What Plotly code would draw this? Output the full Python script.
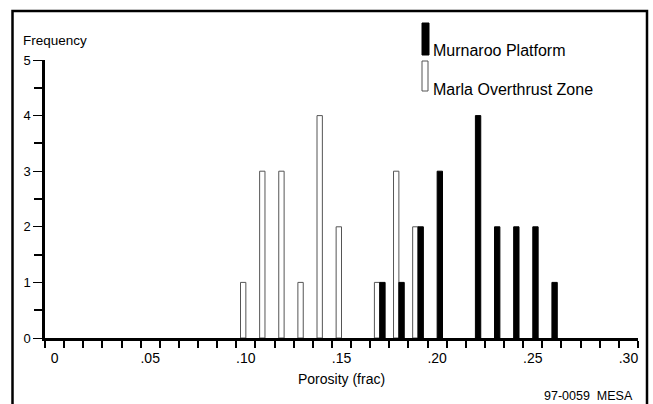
import plotly.graph_objects as go

# Data
murnaroo_x = [0.17, 0.18, 0.19, 0.20, 0.22, 0.23, 0.24, 0.25, 0.26]
murnaroo_y = [1, 1, 2, 3, 4, 2, 2, 2, 1]
marla_x = [0.10, 0.11, 0.12, 0.13, 0.14, 0.15, 0.17, 0.18, 0.19]
marla_y = [1, 3, 3, 1, 4, 2, 1, 3, 2]
xtick_vals = [0, 0.05, 0.10, 0.15, 0.20, 0.25, 0.30]
xtick_text = ["0", ".05", ".10", ".15", ".20", ".25", ".30"]
ytick_vals = [0, 1, 2, 3, 4, 5]

W, H = 653, 404
L, R, T, B = 45, 15, 60, 66
PW, PH = W - L - R, H - T - B


def px(x):
    return (x - L) / PW


def py(y):
    return (H - B - y) / PH


FONT = "Liberation Sans, Arial, sans-serif"
BW = 0.0028

fig = go.Figure()
fig.add_trace(go.Bar(x=marla_x, y=marla_y, width=BW, offset=-BW,
                     marker=dict(color="white", line=dict(color="#555", width=1)),
                     showlegend=False))
fig.add_trace(go.Bar(x=murnaroo_x, y=murnaroo_y, width=BW, offset=0,
                     marker=dict(color="black", line=dict(color="black", width=1)),
                     showlegend=False))

boundaries = [round(-0.005 + 0.01 * k, 4) for k in range(32)]

fig.update_layout(
    width=W, height=H,
    margin=dict(l=L, r=R, t=T, b=B),
    paper_bgcolor="white", plot_bgcolor="white",
    barmode="overlay",
    font=dict(family=FONT, color="black"),
    xaxis=dict(range=[-0.005, 0.305], showgrid=False, zeroline=False,
               showline=True, linecolor="black", linewidth=2.5,
               tickvals=xtick_vals, ticktext=xtick_text, ticks="",
               tickfont=dict(size=14, family=FONT),
               ticklabelstandoff=5,
               minor=dict(tickvals=boundaries, ticks="outside", ticklen=7,
                          tickwidth=2, tickcolor="black")),
    yaxis=dict(range=[0, 5], showgrid=False, zeroline=False,
               showline=True, linecolor="black", linewidth=2.5,
               tickvals=ytick_vals, ticks="outside", ticklen=9, tickwidth=1,
               tickcolor="black", tickfont=dict(size=13, family=FONT),
               minor=dict(tickvals=[0.5, 1.5, 2.5, 3.5, 4.5], ticks="outside",
                          ticklen=8, tickwidth=2, tickcolor="black")),
)

shapes = [
    dict(type="rect", xref="paper", yref="paper", x0=px(12.5), x1=px(647),
         y0=py(412), y1=py(11), line=dict(color="black", width=2.5)),
    dict(type="rect", xref="paper", yref="paper", x0=px(422), x1=px(429),
         y0=py(55), y1=py(23), fillcolor="black", line=dict(color="black", width=1)),
    dict(type="rect", xref="paper", yref="paper", x0=px(422), x1=px(428),
         y0=py(91), y1=py(61), fillcolor="white", line=dict(color="#555", width=1)),
]
fig.update_layout(shapes=shapes)

ann = [
    dict(text="Frequency", x=px(21), y=py(40), xanchor="left", yanchor="middle",
         font=dict(size=13.5, family=FONT)),
    dict(text="Murnaroo Platform", x=px(431), y=py(51), xanchor="left", yanchor="middle",
         font=dict(size=16, family=FONT)),
    dict(text="Marla Overthrust Zone", x=px(431), y=py(89), xanchor="left", yanchor="middle",
         font=dict(size=16, family=FONT)),
    dict(text="Porosity (frac)", x=px(341), y=py(379), xanchor="center", yanchor="middle",
         font=dict(size=14, family=FONT)),
    dict(text="97-0059  MESA", x=px(635), y=py(396), xanchor="right", yanchor="middle",
         font=dict(size=12.5, family=FONT)),
]
for a in ann:
    a.update(xref="paper", yref="paper", showarrow=False)
fig.update_layout(annotations=ann)

fig.write_html("out.html")
